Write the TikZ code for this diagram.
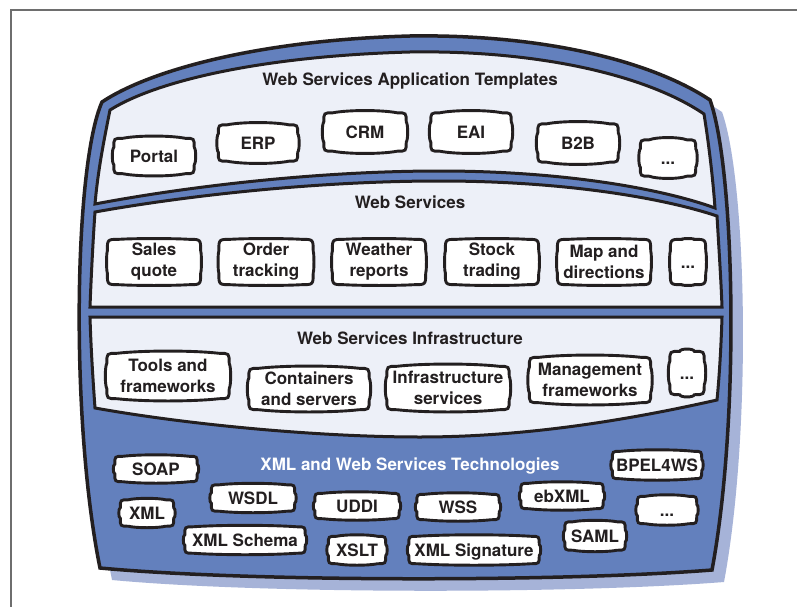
\documentclass[tikz,border=0pt]{standalone}
\usepackage{fontspec}
\setmainfont{TeX Gyre Heros}
\usetikzlibrary{calc}
\definecolor{blueA}{HTML}{6380BD}
\definecolor{paneL}{HTML}{EDF0F8}
\definecolor{shad}{HTML}{A6B3D8}
\definecolor{ink}{HTML}{231F20}
\definecolor{frameg}{HTML}{6E6E6E}
\pgfdeclarelayer{bg}
\pgfdeclarelayer{mid}
\pgfsetlayers{bg,mid,main}
\newcommand\bbox[4]{%
  \draw[boxline]
    ($(#1.north west)+(#2pt,0pt)$)
    .. controls ($(#1.north west)!0.3!(#1.north east)+(0pt,#3pt)$) and ($(#1.north west)!0.7!(#1.north east)+(0pt,#3pt)$) .. ($(#1.north east)+(-#2pt,0pt)$)
    .. controls (#1.north east) .. ($(#1.north east)+(0pt,-#2pt)$)
    .. controls ($(#1.north east)!0.3!(#1.south east)+(#4pt,0pt)$) and ($(#1.north east)!0.7!(#1.south east)+(#4pt,0pt)$) .. ($(#1.south east)+(0pt,#2pt)$)
    .. controls (#1.south east) .. ($(#1.south east)+(-#2pt,0pt)$)
    .. controls ($(#1.south east)!0.3!(#1.south west)+(0pt,-#3pt)$) and ($(#1.south east)!0.7!(#1.south west)+(0pt,-#3pt)$) .. ($(#1.south west)+(#2pt,0pt)$)
    .. controls (#1.south west) .. ($(#1.south west)+(0pt,#2pt)$)
    .. controls ($(#1.south west)!0.3!(#1.north west)+(-#4pt,0pt)$) and ($(#1.south west)!0.7!(#1.north west)+(-#4pt,0pt)$) .. ($(#1.north west)+(0pt,-#2pt)$)
    .. controls (#1.north west) .. ($(#1.north west)+(#2pt,0pt)$) -- cycle;}
\tikzset{
  lbl/.style={font=\fontsize{17}{21}\selectfont\bfseries, text=ink, inner sep=0pt, align=center},
  one/.style={lbl, text height=12.3pt, text depth=0pt},
  two/.style={lbl},
  sz/.style 2 args={minimum width={(#1-5)*1pt}, minimum height={(#2-7)*1pt}},
  boxline/.style={draw=ink, line width=2.9pt, fill=white},
  panel/.style={draw=ink, line width=3pt, fill=paneL},
  ttl/.style={font=\fontsize{17}{21}\selectfont\bfseries, text=ink, anchor=base, inner sep=0pt}
}
\newcommand\outerpath{(102,102) .. controls (150,70) and (260,40) .. (410,36) .. controls (540,34) and (650,60) .. (710,100) .. controls (735,170) and (740,420) .. (712,570) .. controls (560,582) and (250,582) .. (100,568) .. controls (70,420) and (74,165) .. (102,102) -- cycle}
\begin{document}
\begin{tikzpicture}[x=1pt,y=-1pt]
\useasboundingbox (0,0) rectangle (797,607);
\begin{pgfonlayer}{bg}
  \fill[white] (0,0) rectangle (797,607);
  \draw[frameg, line width=1.5pt] (797,10) -- (11,10) -- (11,607);
  \fill[shad, shift={(12,12)}] \outerpath;
  \filldraw[fill=blueA, draw=ink, line width=3.5pt] \outerpath;
  % panel 1
  \draw[panel] (110,110) .. controls (158,80) and (265,56) .. (410,52) .. controls (535,50) and (645,74) .. (704,114)
    .. controls (709,145) and (713,180) .. (715,208)
    .. controls (660,188) and (560,171) .. (440,171) .. controls (320,171) and (190,186) .. (95,204)
    .. controls (98,170) and (104,140) .. (110,110) -- cycle;
  % panel 2
  \draw[panel] (95,212) .. controls (190,195) and (320,181) .. (440,181) .. controls (560,181) and (660,197) .. (717,216)
    .. controls (719,250) and (721,280) .. (722,307) -- (90,307)
    .. controls (91,280) and (93,240) .. (95,212) -- cycle;
  % panel 3
  \draw[panel] (90,317) -- (722,317) .. controls (721,350) and (719,380) .. (717,400)
    .. controls (650,415) and (540,437) .. (420,437) .. controls (320,437) and (190,425) .. (95,408)
    .. controls (93,380) and (91,350) .. (90,317) -- cycle;
\end{pgfonlayer}

\node[ttl] (t1) at (410,86) {Web Services Application Templates};
\node[ttl] (t2) at (410,208) {Web Services};
\node[ttl] (t3) at (410,344) {Web Services Infrastructure};
\node[ttl, text=white] (t4) at (410,470) {XML and Web Services Technologies};

% row 1
\node[one,sz={85}{42}] (portal) at (154,156) {Portal};
\node[one,sz={84}{43}] (erp) at (258,143) {ERP};
\node[one,sz={87}{45}] (crm) at (365,132) {CRM};
\node[one,sz={85}{45}] (eai) at (471,132) {EAI};
\node[one,sz={85}{45}] (btb) at (578,143) {B2B};
\node[one,sz={60}{43}] (dotsa) at (668,158) {...};
% row 2
\node[two,sz={98}{52}] (sales) at (154,262) {Sales\\quote};
\node[two,sz={99}{52}] (order) at (266,262) {Order\\tracking};
\node[two,sz={98}{52}] (weather) at (379,262) {Weather\\reports};
\node[two,sz={98}{52}] (stock) at (492,262) {Stock\\trading};
\node[two,sz={98}{52}] (map) at (604,262) {Map and\\directions};
\node[one,sz={40}{52}] (dotsb) at (688,262) {...};
% row 3
\node[two,sz={127}{52}] (tools) at (168,376) {Tools and\\frameworks};
\node[two,sz={125}{48}] (cont) at (309,389) {Containers\\and servers};
\node[two,sz={127}{50}] (infra) at (448,388) {Infrastructure\\services};
\node[two,sz={126}{52}] (mgmt) at (590,380) {Management\\frameworks};
\node[one,sz={39}{50}] (dotsc) at (687,373) {...};
% row 4
\node[one,sz={87}{32}] (soap) at (156,469) {SOAP};
\node[one,sz={58}{33}] (xml) at (147,513) {XML};
\node[one,sz={88}{33}] (wsdl) at (253,498) {WSDL};
\node[one,sz={125}{33}] (schema) at (245,540) {XML Schema};
\node[one,sz={89}{32}] (uddi) at (357,506) {UDDI};
\node[one,sz={62}{34}] (xslt) at (357,550) {XSLT};
\node[one,sz={87}{32}] (wss) at (458,507) {WSS};
\node[one,sz={135}{34}] (sig) at (474,550) {XML Signature};
\node[one,sz={87}{32}] (ebxml) at (562,496) {ebXML};
\node[one,sz={65}{35}] (saml) at (595,536) {SAML};
\node[one,sz={94}{34}] (bpel) at (657,465) {BPEL4WS};
\node[one,sz={64}{34}] (dotsd) at (667,510) {...};

\begin{pgfonlayer}{mid}
  \foreach \n in {portal,erp,crm,eai,btb,dotsa} {\bbox{\n}{9}{3}{2}}
  \foreach \n in {sales,order,weather,stock,map,dotsb} {\bbox{\n}{12}{1}{1}}
  \foreach \n in {tools,cont,infra,mgmt,dotsc} {\bbox{\n}{10}{3}{2}}
  \foreach \n in {soap,xml,wsdl,schema,uddi,xslt,wss,sig,ebxml,saml,bpel,dotsd} {\bbox{\n}{8}{2}{2}}
\end{pgfonlayer}
\end{tikzpicture}
\end{document}
